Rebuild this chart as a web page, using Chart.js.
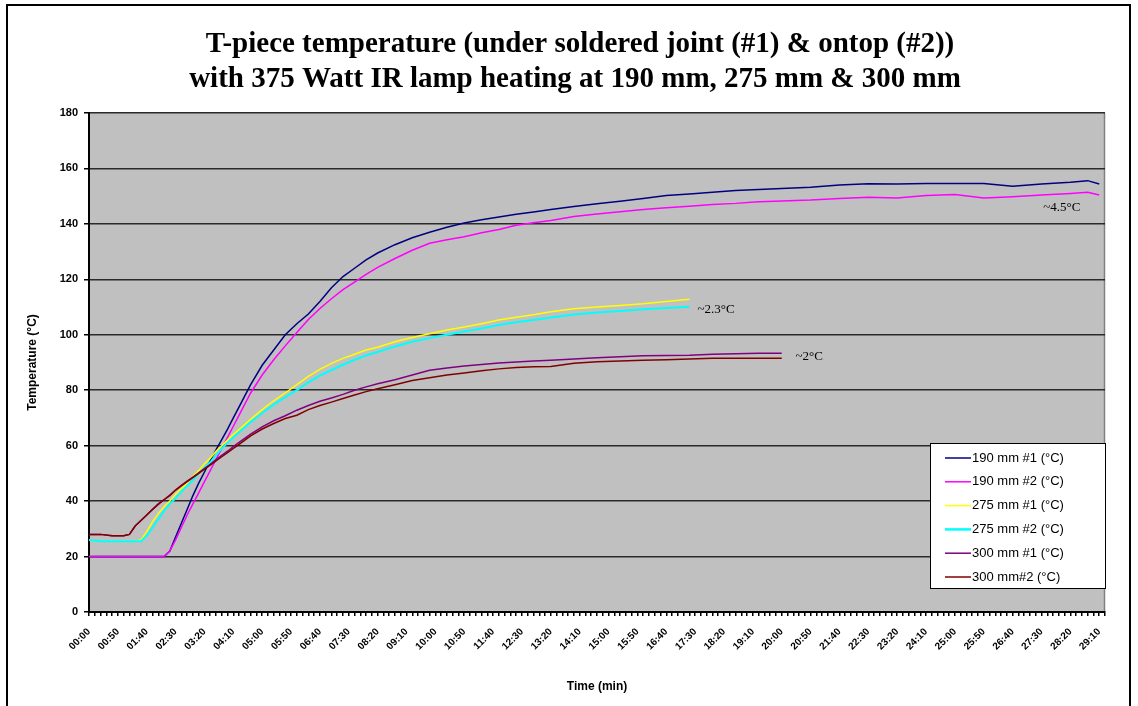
<!DOCTYPE html>
<html>
<head>
<meta charset="utf-8">
<script src="https://cdn.jsdelivr.net/npm/chart.js@4.4.0/dist/chart.umd.min.js"></script>
<style>
html, body { margin: 0; padding: 0; background: #fff; }
</style>
</head>
<body>
<canvas id="mycanvas_temp" width="1138" height="706"></canvas>
<script>
// time of each reading, seconds
var timeSec = [0, 20, 40, 60, 70, 80, 90, 100, 110, 120, 130, 140, 150, 160, 170, 180, 190, 200, 210, 220,
	230, 240, 250, 260, 280, 300, 320, 340, 360, 380, 400, 420, 440, 460, 480, 500, 530, 560, 590, 620,
	650, 680, 710, 740, 770, 800, 840, 880, 920, 960, 1000, 1040, 1080, 1120, 1160, 1200, 1250, 1300, 1350, 1400,
	1450, 1500, 1550, 1600, 1650, 1700, 1730, 1750];

var mm190_1 = [20, 20, 20, 20, 20, 20, 20, 20, 20, 20, 20, 22, 27, 32, 37, 42, 46.5, 50.5, 54.5, 58.5,
	62.2, 66, 70, 74, 82, 89, 94.5, 100, 104, 107.5, 112, 117, 121, 124, 127, 129.5, 132.5, 135, 137, 138.8,
	140.3, 141.5, 142.5, 143.5, 144.3, 145.2, 146.3, 147.3, 148.2, 149.2, 150.2, 150.8, 151.4, 152, 152.4, 152.8, 153.2, 154, 154.5, 154.4,
	154.6, 154.6, 154.6, 153.6, 154.4, 155, 155.6, 154.4];
var mm190_2 = [20, 20, 20, 20, 20, 20, 20, 20, 20, 20, 20, 22, 26, 30.5, 35, 39, 43, 47, 51, 55,
	59, 63, 67, 71, 79, 85.5, 91, 96, 100.8, 105.5, 109.5, 113, 116.3, 119, 121.8, 124.3, 127.5, 130.5, 133, 134.3,
	135.4, 136.8, 138, 139.5, 140.4, 141.2, 142.7, 143.6, 144.4, 145.2, 145.8, 146.4, 147, 147.4, 148, 148.3, 148.6, 149.2, 149.6, 149.3,
	150.2, 150.6, 149.3, 149.8, 150.4, 151, 151.4, 150.4];
var mm275_1 = [26, 25.5, 25.5, 25.5, 25.5, 25.5, 26, 29, 32.5, 35.5, 38, 40, 42.5, 44.5, 46.5, 49, 51, 53.5, 55.5, 58,
	60, 62, 64, 65.8, 69.5, 73, 76.2, 79, 82, 85, 87.5, 89.7, 91.5, 93, 94.5, 95.5, 97.5, 99, 100.4, 101.7,
	102.8, 104, 105.3, 106.3, 107.2, 108.3, 109.4, 110, 110.6, 111.2, 112, 112.8];
var mm275_2 = [26, 25.5, 25.5, 25.5, 25.5, 25.5, 25.5, 27.5, 30.5, 33.5, 36.5, 39, 41, 43.5, 45.5, 47.5, 50, 52, 54, 56.5,
	59, 61, 63, 64.8, 68.5, 71.8, 74.8, 77.5, 80, 82.8, 85.3, 87.3, 89.2, 91, 92.5, 93.8, 95.8, 97.5, 98.8, 100,
	101.2, 102.3, 103.5, 104.5, 105.3, 106.2, 107.3, 108, 108.6, 109.2, 109.7, 110.1];
var mm300_1 = [28, 28, 27.5, 27.5, 28, 31, 33, 35, 37, 39, 40.5, 42.2, 44, 45.7, 47.2, 48.7, 50.2, 51.7, 53.3, 55,
	56.5, 58, 59.7, 61.2, 64.2, 66.8, 69, 70.8, 72.8, 74.5, 76, 77.2, 78.5, 80, 81.2, 82.3, 83.8, 85.5, 87.2, 88,
	88.7, 89.3, 89.8, 90.2, 90.5, 90.8, 91.3, 91.7, 92.1, 92.4, 92.5, 92.6, 93, 93.2, 93.3, 93.3];
var mm300_2 = [28, 28, 27.5, 27.5, 28, 31, 33, 35, 37, 38.8, 40.5, 42, 44, 45.5, 47, 48.5, 50, 51.5, 53, 54.5,
	56, 57.5, 59, 60.5, 63.5, 66, 68, 69.8, 71, 73, 74.5, 75.7, 77, 78.3, 79.5, 80.5, 82, 83.5, 84.5, 85.5,
	86.2, 87, 87.7, 88.2, 88.5, 88.6, 89.7, 90.3, 90.5, 90.8, 91, 91.3, 91.5, 91.5, 91.5, 91.5];

var seriesLabels = ['190 mm #1 (°C)', '190 mm #2 (°C)', '275 mm #1 (°C)', '275 mm #2 (°C)', '300 mm #1 (°C)', '300 mm#2 (°C)'];
var seriesValues = [mm190_1, mm190_2, mm275_1, mm275_2, mm300_1, mm300_2];
var seriesColors = ['#000080', '#ff00ff', '#ffff00', '#00ffff', '#800080', '#800000'];

var yTicks = [0, 20, 40, 60, 80, 100, 120, 140, 160, 180];

// difference notes, placed in data units (time s, temperature)
var noteTexts = ['~4.5°C', '~2.3°C', '~2°C'];
var noteTimes = [1653, 1054, 1224];
var noteTemps = [146, 109, 92];

var titleLines = ['T-piece temperature (under soldered joint (#1) & ontop (#2))',
	'with 375 Watt IR lamp heating at 190 mm, 275 mm & 300 mm'];

function fmtTime(s) {
	var m = Math.floor(s / 60), ss = Math.round(s % 60);
	return (m < 10 ? '0' : '') + m + ':' + (ss < 10 ? '0' : '') + ss;
}

var datasets = [];
for (var i in seriesValues) {
	var pts = [];
	for (var j = 0; j < seriesValues[i].length; j++) {
		pts.push({x: timeSec[j], y: seriesValues[i][j]});
	}
	datasets.push({
		label: seriesLabels[i],
		data: pts,
		borderColor: seriesColors[i],
		backgroundColor: seriesColors[i],
		borderWidth: i == 3 ? 2 : 1.5,
		pointRadius: 0,
		tension: 0,
		order: 6 - i
	});
}

var deco = {
	id: 'deco',
	beforeDraw: function(chart) {
		var c = chart.ctx, a = chart.chartArea;
		c.save();
		c.fillStyle = '#fff';
		c.fillRect(0, 0, chart.width, chart.height);
		c.fillStyle = '#c0c0c0';
		c.fillRect(a.left, a.top, a.right - a.left, a.bottom - a.top);
		c.strokeStyle = '#808080';
		c.lineWidth = 1.5;
		c.beginPath();
		c.moveTo(a.right - 0.5, a.top);
		c.lineTo(a.right - 0.5, a.bottom);
		c.stroke();
		c.restore();
	},
	afterDraw: function(chart) {
		var c = chart.ctx, a = chart.chartArea;
		var xs = chart.scales.x, ys = chart.scales.y;
		c.save();
		// title
		c.fillStyle = '#000';
		c.textAlign = 'center';
		c.textBaseline = 'middle';
		c.font = 'bold 29px "Liberation Serif"';
		c.fillText(titleLines[0], 580, 45);
		c.fillText(titleLines[1], 575, 80);
		// notes
		c.font = '13px "Liberation Serif"';
		c.textAlign = 'left';
		for (var k = 0; k < noteTexts.length; k++) {
			c.fillText(noteTexts[k], xs.getPixelForValue(noteTimes[k]), ys.getPixelForValue(noteTemps[k]));
		}
		// legend box
		var bw = 175, bh = 145;
		var bx = a.right - bw, by = a.bottom - 24 - bh;
		c.fillStyle = '#fff';
		c.fillRect(bx, by, bw, bh);
		c.strokeStyle = '#000';
		c.lineWidth = 1;
		c.strokeRect(bx + 0.5, by + 0.5, bw, bh);
		c.font = '13px "Liberation Sans"';
		c.textBaseline = 'middle';
		for (var n = 0; n < seriesLabels.length; n++) {
			var ly = by + 15 + n * 23.8;
			c.strokeStyle = seriesColors[n];
			c.lineWidth = n == 3 ? 2.5 : 1.5;
			c.beginPath();
			c.moveTo(bx + 15, ly);
			c.lineTo(bx + 41, ly);
			c.stroke();
			c.fillStyle = '#000';
			c.fillText(seriesLabels[n], bx + 42, ly);
		}
		// outer frame
		c.strokeStyle = '#000';
		c.lineWidth = 2;
		c.beginPath();
		c.moveTo(7, 706);
		c.lineTo(7, 5);
		c.lineTo(1130, 5);
		c.lineTo(1130, 706);
		c.stroke();
		c.restore();
	}
};

var ctx = document.getElementById('mycanvas_temp');

var tempChart = new Chart(ctx, {
	type: 'line',
	data: { datasets: datasets },
	options: {
		responsive: false,
		animation: false,
		devicePixelRatio: 1,
		layout: { padding: { left: 25, top: 113, right: 33, bottom: 12 } },
		plugins: {
			legend: { display: false },
			title: { display: false },
			tooltip: { enabled: false }
		},
		scales: {
			x: {
				type: 'linear',
				min: 0,
				max: 1760,
				afterFit: function(scale) { scale.height = 82; },
				border: { color: '#000', width: 2 },
				grid: { drawOnChartArea: false, drawTicks: true, tickLength: 4, tickColor: '#000', lineWidth: 1.5 },
				ticks: {
					stepSize: 10,
					autoSkip: false,
					minRotation: 45,
					maxRotation: 45,
					padding: 10,
					color: '#000',
					font: { family: 'Liberation Sans', size: 10, weight: 'bold' },
					callback: function(v) { return v % 50 === 0 ? fmtTime(v) : ''; }
				},
				title: {
					display: true,
					text: 'Time (min)',
					color: '#000',
					padding: 0,
					font: { family: 'Liberation Sans', size: 12, weight: 'bold' }
				}
			},
			y: {
				min: yTicks[0],
				max: yTicks[yTicks.length - 1],
				afterFit: function(scale) { scale.width = 64; },
				afterBuildTicks: function(scale) {
					scale.ticks = yTicks.map(function(v) { return {value: v}; });
				},
				border: { color: '#000', width: 2 },
				grid: { color: '#2a2a2a', lineWidth: 1.5, drawTicks: true, tickLength: 5, tickColor: '#000' },
				ticks: {
					color: '#000',
					padding: 6,
					font: { family: 'Liberation Sans', size: 11, weight: 'bold' }
				},
				title: {
					display: true,
					text: 'Temperature (°C)',
					color: '#000',
					padding: 0,
					font: { family: 'Liberation Sans', size: 12, weight: 'bold' }
				}
			}
		}
	},
	plugins: [deco]
});
</script>
</body>
</html>
